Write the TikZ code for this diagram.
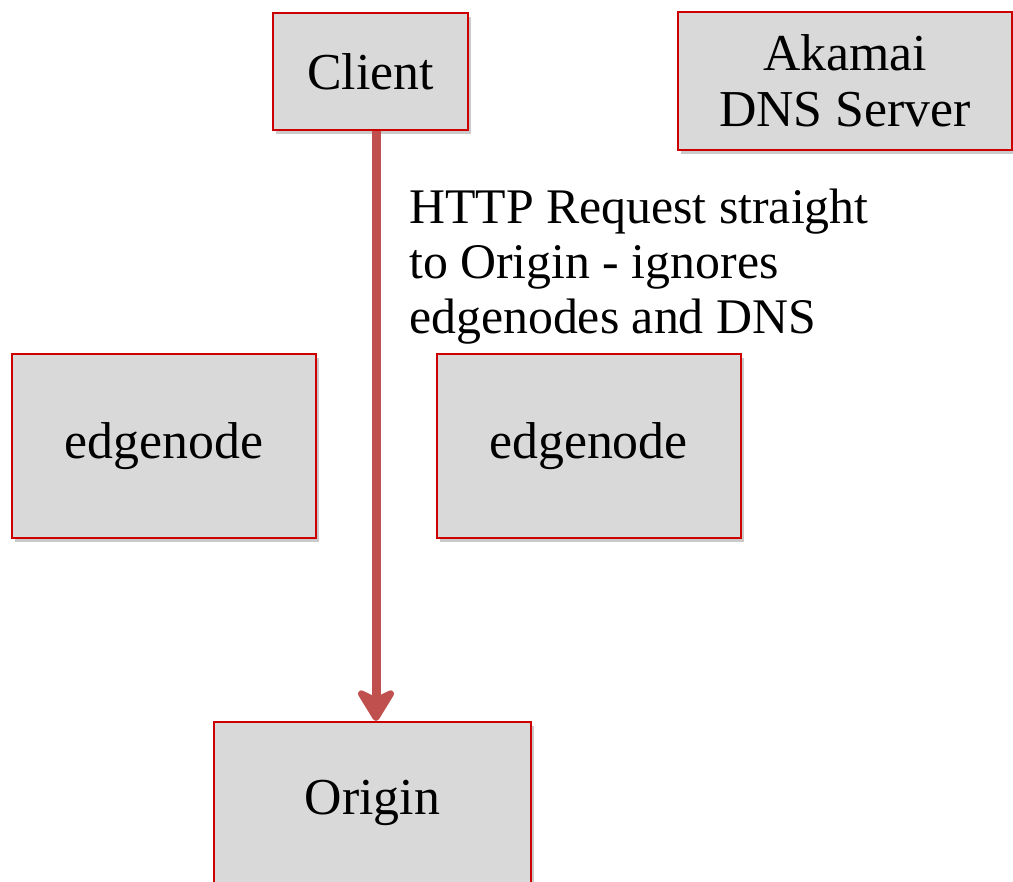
\documentclass[tikz,border=0pt]{standalone}
\usepackage{fontspec}
\setmainfont{Liberation Serif}
\usetikzlibrary{arrows.meta,positioning,shadows}
\definecolor{boxred}{RGB}{204,0,0}
\definecolor{boxgray}{RGB}{217,217,217}
\definecolor{arrowred}{RGB}{192,80,77}
\tikzset{
  x=1bp,y=-1bp,
  box/.style={draw=boxred,fill=boxgray,line width=2bp,inner sep=0pt,align=center,
    font=\fontsize{52}{56}\selectfont,
    drop shadow={shadow xshift=3bp,shadow yshift=-4bp,opacity=0.35,fill=black!60}},
  request/.style={draw=arrowred,line width=9bp,
    -{Stealth[length=38bp,width=46bp,inset=11bp,round]}},
  note/.style={font=\fontsize{50}{55}\selectfont,align=left,inner sep=0pt},
}
\begin{document}
\begin{tikzpicture}
    \useasboundingbox (0,0) rectangle (1013,882);
    \node[box,minimum width=195bp,minimum height=117bp] (client) at (370.5,71.5) {Client};
    \node[box,minimum width=334bp,minimum height=138bp] (dns) at (845,81) {Akamai\\DNS Server};
    \node[box,minimum width=304bp,minimum height=184bp] (edgeL) at (164,446) {edgenode};
    \node[box,minimum width=304bp,minimum height=184bp] (edgeR) at (588.5,446) {edgenode};
    \node[box,minimum width=317bp,minimum height=162bp] (origin) at (372.5,803) {Origin};
    \draw[request] ([xshift=5.5bp]client.south) -- ([xshift=5.5bp]client.south |- origin.north);
    \node[note,anchor=north west] (label) at (409,189) {HTTP Request straight\\to Origin - ignores\\edgenodes and DNS};
\end{tikzpicture}
\end{document}
